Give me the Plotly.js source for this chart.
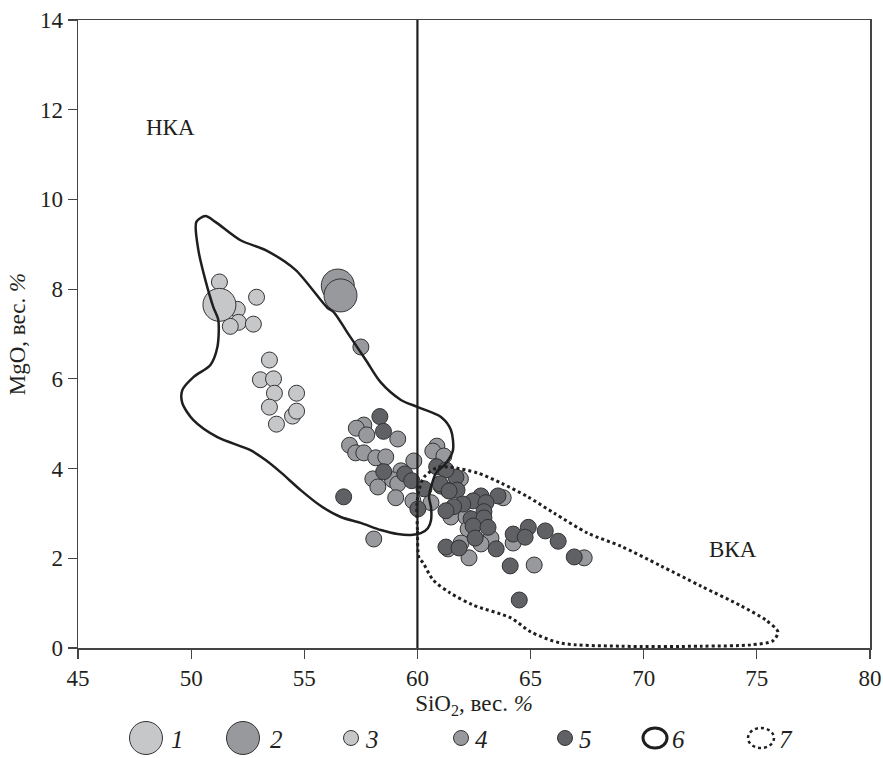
<!DOCTYPE html>
<html>
<head>
<meta charset="utf-8">
<script src="https://cdn.plot.ly/plotly-3.0.1.min.js"></script>
<style>html,body{margin:0;padding:0;background:#fff;}#chart{width:883px;height:758px;}</style>
</head>
<body>
<div id="chart"></div>
<script>
// ---- Data (SiO2, MgO wt.%) ----
const type1_x = [51.25];
const type1_y = [7.65];
const type2_x = [56.48, 56.60];
const type2_y = [8.08, 7.86];
const type3_x = [51.25, 52.89, 52.04, 52.09, 51.73, 52.75, 53.46, 53.06, 53.64, 53.68, 54.66, 53.46, 54.48, 54.66, 53.77];
const type3_y = [8.16, 7.82, 7.55, 7.26, 7.17, 7.22, 6.42, 5.98, 6.00, 5.68, 5.68, 5.37, 5.17, 5.28, 4.99];
const type4_x = [57.50, 57.63, 57.30, 57.76, 59.13, 57.00, 57.27, 57.63, 58.16, 58.60, 59.84, 60.86, 60.68, 61.17, 59.27, 58.03, 58.90, 59.13, 58.25, 59.04, 59.80, 58.07, 60.60, 61.90, 61.35, 63.79, 61.48, 62.15, 62.24, 63.25, 62.81, 61.93, 61.35, 62.28, 64.23, 67.37, 65.16];
const type4_y = [6.71, 4.97, 4.90, 4.75, 4.66, 4.52, 4.35, 4.35, 4.24, 4.26, 4.17, 4.50, 4.39, 4.28, 3.95, 3.77, 3.75, 3.66, 3.59, 3.35, 3.28, 2.43, 3.24, 3.77, 3.52, 3.35, 2.92, 2.92, 2.65, 2.45, 2.32, 2.34, 2.21, 2.01, 2.34, 2.01, 1.85];
const type5_x = [58.34, 58.50, 58.51, 59.44, 59.75, 60.29, 56.74, 60.02, 60.85, 61.70, 61.04, 61.75, 61.26, 61.00, 61.40, 62.81, 63.56, 62.46, 63.03, 62.00, 61.60, 61.26, 62.94, 62.37, 62.94, 62.46, 63.12, 62.55, 63.48, 61.26, 61.84, 64.23, 64.90, 64.76, 65.65, 66.22, 66.93, 64.10, 64.50];
const type5_y = [5.16, 4.83, 3.93, 3.88, 3.73, 3.55, 3.37, 3.10, 4.04, 3.81, 3.61, 3.52, 3.97, 3.66, 3.50, 3.39, 3.39, 3.28, 3.24, 3.21, 3.15, 3.06, 3.04, 2.88, 2.90, 2.72, 2.69, 2.45, 2.21, 2.25, 2.23, 2.54, 2.69, 2.47, 2.61, 2.38, 2.03, 1.83, 1.07];
// field 6 (solid contour)
const field6_x = [50.23, 50.63, 51.07, 52.18, 53.29, 54.61, 56.03, 56.30, 56.92, 57.72, 58.38, 59.27, 60.02, 61.04, 61.48, 61.57, 61.26, 60.82, 60.60, 60.51, 60.60, 60.60, 60.46, 60.15, 59.71, 59.13, 58.38, 57.49, 56.61, 55.72, 54.84, 53.95, 53.29, 52.62, 51.16, 50.10, 49.61, 49.61, 50.10, 50.85, 51.16, 51.20, 50.98, 50.63, 50.32, 50.23];
const field6_y = [9.50, 9.63, 9.50, 9.09, 8.87, 8.43, 7.58, 7.49, 7.02, 6.42, 5.92, 5.53, 5.37, 5.15, 4.86, 4.41, 4.12, 3.90, 3.59, 3.37, 3.14, 2.85, 2.67, 2.56, 2.52, 2.54, 2.63, 2.79, 2.92, 3.17, 3.52, 3.92, 4.19, 4.41, 4.70, 5.08, 5.46, 5.75, 6.04, 6.31, 6.71, 7.31, 7.60, 8.20, 8.87, 9.50];
// field 7 (dotted contour)
const field7_x = [60.07, 60.0, 59.98, 60.07, 60.29, 60.91, 61.48, 62.67, 63.69, 64.88, 66.03, 67.53, 68.99, 70.76, 72.53, 74.30, 75.40, 75.93, 75.71, 74.74, 72.53, 68.99, 66.34, 65.01, 64.13, 62.45, 61.44, 60.69, 60.25, 60.07];
const field7_y = [2.01, 2.63, 3.23, 3.52, 3.81, 4.03, 4.03, 3.90, 3.68, 3.37, 3.01, 2.56, 2.27, 1.83, 1.38, 0.94, 0.62, 0.36, 0.16, 0.07, 0.04, 0.04, 0.11, 0.36, 0.67, 0.96, 1.23, 1.52, 1.90, 2.01];
const boundarySiO2 = 60;
const xTicks = [45, 50, 55, 60, 65, 70, 75, 80];
const yTicks = [0, 2, 4, 6, 8, 10, 12, 14];
const legendLabels = ['1', '2', '3', '4', '5', '6', '7'];

// ---- styles ----
const LIGHT = '#c6c7c9', MID = '#98999c', DARK = '#606164', EDGE = '#333335', LINE = '#1f1f1f';
const serif = 'Liberation Serif, Times New Roman, serif';
const TXT = '#231f20';

function pts(x, y, color, size) {
  return {x: x, y: y, type: 'scatter', mode: 'markers', hoverinfo: 'x+y',
    marker: {color: color, size: size, line: {color: EDGE, width: 1}}, showlegend: false};
}

const traces = [
  pts(type3_x, type3_y, LIGHT, 16),
  pts(type1_x, type1_y, LIGHT, 33),
  pts(type2_x, type2_y, MID, 33),
  pts(type4_x, type4_y, MID, 16),
  pts(type5_x, type5_y, DARK, 16),
  {x: field6_x, y: field6_y, type: 'scatter', mode: 'lines', line: {color: LINE, width: 2.5, shape: 'spline', smoothing: 0.8}, showlegend: false, hoverinfo: 'skip'},
  {x: field7_x, y: field7_y, type: 'scatter', mode: 'lines', line: {color: LINE, width: 3, dash: 'dot', shape: 'spline', smoothing: 0.8}, showlegend: false, hoverinfo: 'skip'},
  {x: [boundarySiO2, boundarySiO2], y: [0, 14], type: 'scatter', mode: 'lines', line: {color: LINE, width: 2.2}, showlegend: false, hoverinfo: 'skip'}
];

// legend (paper coordinates relative to plot area 78..870 x 20..648)
const L = 78, W = 792, T = 20, H = 628;
const px = v => (v - L) / W;
const py = v => (T + H - v) / H;
const legY = 738;
const legItems = [
  {cx: 146, w: 33, h: 33, fill: LIGHT, tx: 169},
  {cx: 243, w: 33, h: 33, fill: MID, tx: 268},
  {cx: 351, w: 15, h: 15, fill: LIGHT, tx: 363},
  {cx: 461, w: 15, h: 15, fill: MID, tx: 473},
  {cx: 565, w: 15, h: 15, fill: DARK, tx: 577},
  {cx: 655, w: 24, h: 20, ring: 'solid', tx: 670},
  {cx: 761, w: 26, h: 20, ring: 'dot', tx: 777}
];
const shapes = [];
const annotations = [];
legItems.forEach((it, i) => {
  const s = {type: 'circle', xref: 'paper', yref: 'paper', xsizemode: 'pixel', ysizemode: 'pixel',
    xanchor: px(it.cx), yanchor: py(legY), x0: -it.w / 2, x1: it.w / 2, y0: -it.h / 2, y1: it.h / 2};
  if (it.ring) {
    s.line = {color: LINE, width: it.ring === 'solid' ? 3 : 2.5, dash: it.ring === 'dot' ? 'dot' : 'solid'};
    s.fillcolor = 'rgba(0,0,0,0)';
  } else {
    s.line = {color: EDGE, width: 1};
    s.fillcolor = it.fill;
  }
  shapes.push(s);
  annotations.push({xref: 'paper', yref: 'paper', x: px(it.tx), y: py(legY + 1), xanchor: 'left', yanchor: 'middle',
    text: '<i>' + legendLabels[i] + '</i>', showarrow: false, font: {family: serif, size: 25, color: TXT}});
});
annotations.push({x: 49.07, y: 11.6, text: 'НКА', showarrow: false, font: {family: serif, size: 23, color: TXT}});
annotations.push({x: 73.95, y: 2.2, text: 'ВКА', showarrow: false, font: {family: serif, size: 23, color: TXT}});

const axisCommon = {showgrid: false, zeroline: false, showline: true, mirror: true, linecolor: '#444', linewidth: 1.5,
  ticks: 'outside', ticklen: 9, tickcolor: '#444', tickwidth: 1.2,
  tickfont: {family: serif, size: 23, color: TXT}};

const layout = {
  width: 883, height: 758,
  margin: {l: 78, r: 13, t: 20, b: 110},
  paper_bgcolor: '#fff', plot_bgcolor: '#fff',
  xaxis: Object.assign({}, axisCommon, {range: [45, 80], tickvals: xTicks, ticktext: xTicks.map(String),
    title: {text: 'SiO<sub>2</sub>, вес. <i>%</i>', font: {family: serif, size: 23, color: TXT}, standoff: 4}}),
  yaxis: Object.assign({}, axisCommon, {range: [0, 14], tickvals: yTicks, ticktext: yTicks.map(String),
    title: {text: 'MgO, вес. <i>%</i>', font: {family: serif, size: 23, color: TXT}, standoff: 8}}),
  shapes: shapes,
  annotations: annotations,
  showlegend: false
};

Plotly.newPlot('chart', traces, layout, {displayModeBar: false, staticPlot: true});
</script>
</body>
</html>
